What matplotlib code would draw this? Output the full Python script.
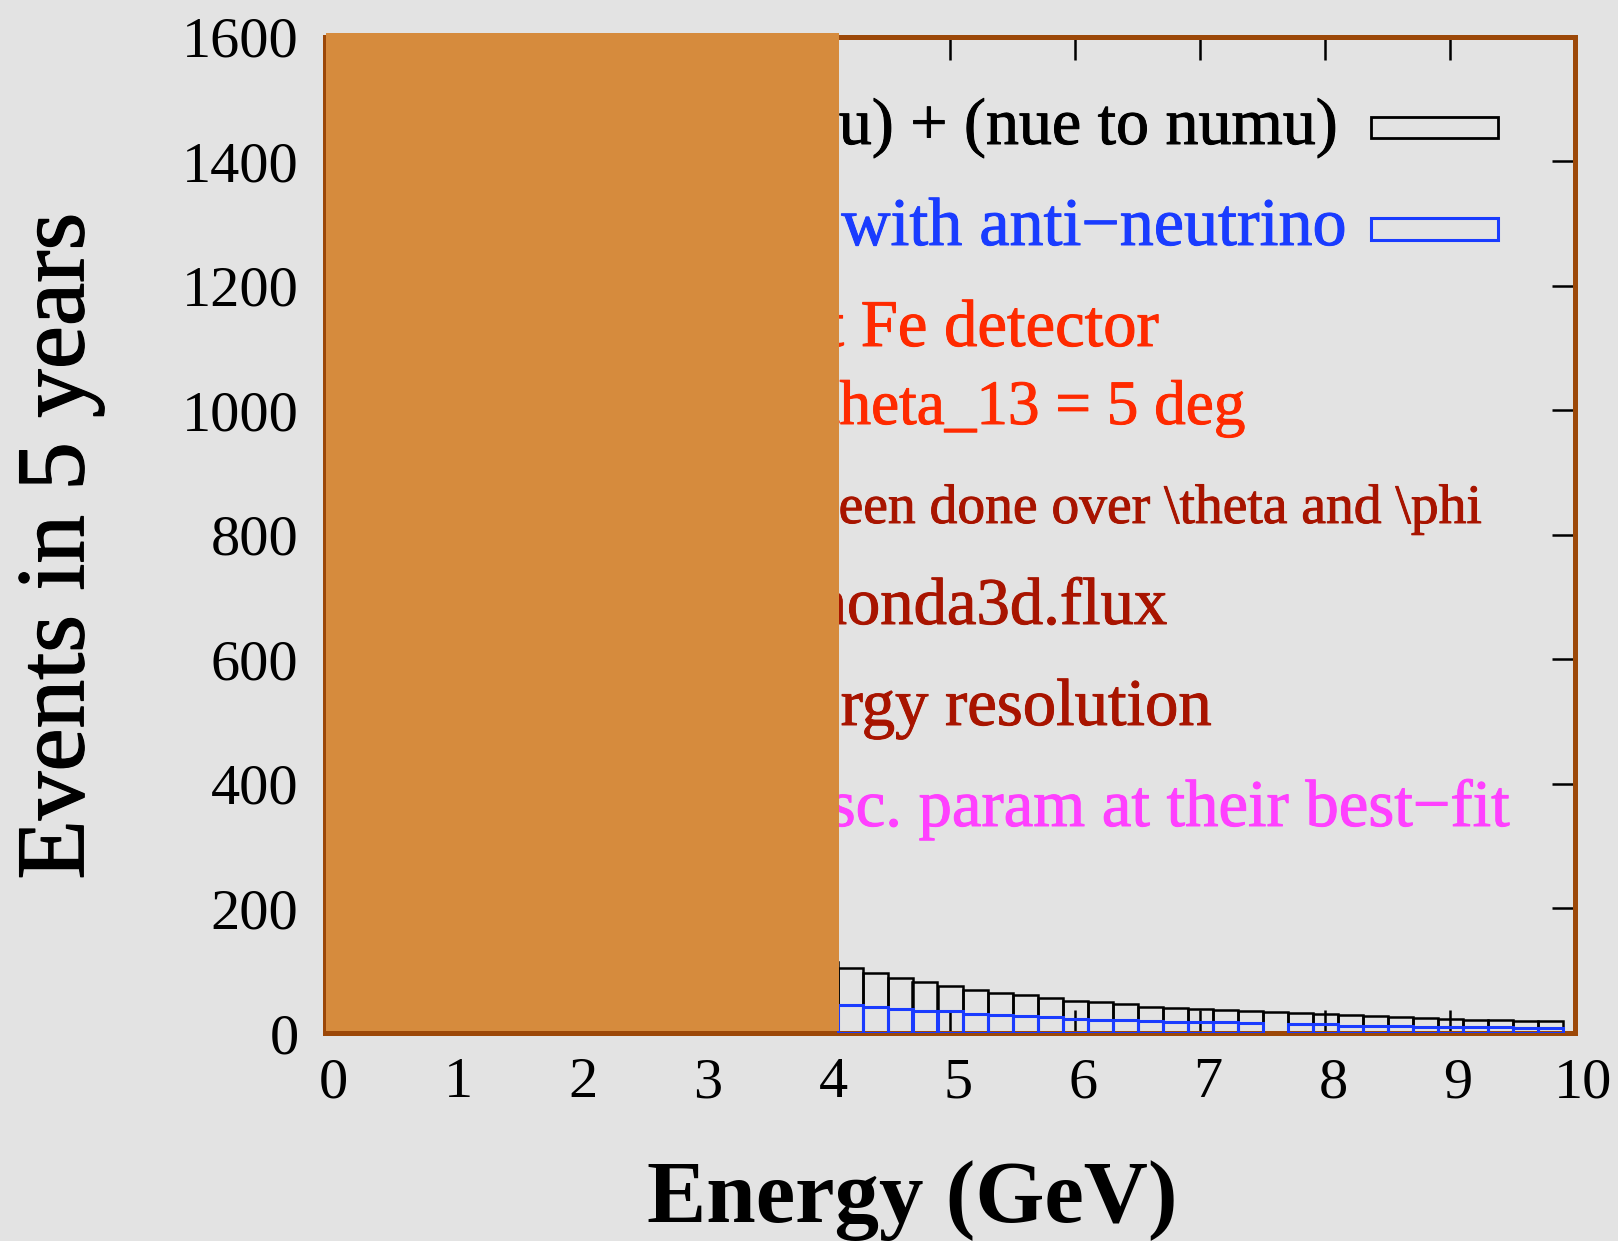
import matplotlib
matplotlib.use('Agg')
import matplotlib.pyplot as plt
import matplotlib.transforms as mtransforms
import matplotlib.patheffects as pe
from matplotlib.patches import Rectangle

plt.rcParams['font.family'] = ['Liberation Serif', 'DejaVu Serif']

# histogram bin centres (GeV), 0.2 GeV wide bins
energy = [4.0, 4.2, 4.4, 4.6, 4.8, 5.0, 5.2, 5.4, 5.6, 5.8,
          6.0, 6.2, 6.4, 6.6, 6.8, 7.0, 7.2, 7.4, 7.6, 7.8,
          8.0, 8.2, 8.4, 8.6, 8.8, 9.0, 9.2, 9.4, 9.6, 9.8]
events_nu = [114, 105, 96, 88, 82, 75, 69, 65, 61, 56,
             52, 50, 46, 42, 40, 39, 37, 35, 33, 32,
             30, 29, 27, 25, 24, 22, 21, 21, 20, 19]

energy_anti = [4.2, 4.4, 4.6, 4.8, 5.0, 5.2, 5.4, 5.6, 5.8,
               6.0, 6.2, 6.4, 6.6, 6.8, 7.0, 7.2, 7.4, 7.8,
               8.0, 8.2, 8.4, 8.6, 8.8, 9.0, 9.2, 9.4, 9.6, 9.8]
events_anti = [45, 41, 38, 36, 35, 31, 29, 27, 25,
               23, 21, 21, 20, 18, 18, 17, 16, 14,
               14, 12, 12, 11, 10, 10, 9, 9, 8, 8]

bin_width = 0.2
x_ticks = list(range(0, 11))
y_ticks = list(range(0, 1601, 200))

W, H = 1618, 1241
brown = '#9c4808'
bg = '#e3e3e3'


def fx(x):
    return x / W


def fy(y):
    return 1 - y / H


def heavy(col, lw=0.7):
    # the original's text looks a bit heavier than plain Liberation Serif
    return [pe.withStroke(linewidth=lw, foreground=col)]


fig = plt.figure(figsize=(W / 100, H / 100), dpi=100)
fig.patch.set_facecolor(bg)
ax = fig.add_axes([fx(325), fy(1033), fx(1575) - fx(325), fy(36.5) - fy(1033)])
ax.set_facecolor(bg)

ax.bar(energy, events_nu, width=bin_width, fill=False, edgecolor='black',
       linewidth=1.8, zorder=2)
ax.bar(energy_anti, events_anti, width=bin_width, fill=False,
       edgecolor='#1a3cff', linewidth=2.2, zorder=3)

ax.set_xlim(0, 10)
ax.set_ylim(0, 1600)
ax.set_xticks(x_ticks)
ax.set_yticks(y_ticks)
ax.tick_params(direction='in', length=16.5, width=1.8, top=True, right=True,
               labelsize=42, color='black')
ax.tick_params(axis='y', pad=19)
ax.tick_params(axis='x', pad=17.5)
# x tick labels sit a little right of their ticks in the original
shift = mtransforms.ScaledTranslation(0.08, 0, fig.dpi_scale_trans)
for lab in ax.xaxis.get_majorticklabels():
    lab.set_transform(lab.get_transform() + shift)
for s in ax.spines.values():
    s.set_color(brown)
    s.set_linewidth(3.6)

# axis labels
fig.text(fx(912), fy(1222), 'Energy (GeV)', ha='center', va='baseline',
         fontsize=64, fontweight='bold')
fig.text(fx(60), fy(546), 'Events in 5 years', ha='center', va='center',
         rotation=90, fontsize=70, path_effects=heavy('black', 0.9))

# key / annotation lines (partly hidden by the orange box)
lines = [
    ('(numu to numu) + (nue to numu)', 1338, 144, 'black', 47.5),
    ('Same with anti\u2212neutrino', 1345, 245, '#1a3cff', 49),
    ('50 kt Fe detector', 1158, 346, '#ff2a00', 48),
    ('\\theta_13 = 5 deg', 1246, 424, '#ff2a00', 45.5),
    ('Integration has been done over \\theta and \\phi', 1480, 523, '#a81400', 40),
    ('Flux: honda3d.flux', 1167, 624, '#a81400', 48),
    ('With energy resolution', 1211, 725, '#a81400', 48),
    ('All other osc. param at their best\u2212fit', 1509, 826, '#ff40ff', 48),
]
for txt, xr, yb, col, fs in lines:
    fig.text(fx(xr), fy(yb), txt, ha='right', va='baseline', color=col,
             fontsize=fs, path_effects=heavy(col))

fig.add_artist(Rectangle((fx(1371), fy(138)), fx(1498) - fx(1371), fy(117) - fy(138),
                         transform=fig.transFigure, fill=False,
                         edgecolor='black', linewidth=2))
fig.add_artist(Rectangle((fx(1371), fy(240)), fx(1498) - fx(1371), fy(218) - fy(240),
                         transform=fig.transFigure, fill=False,
                         edgecolor='#1a3cff', linewidth=2.2))

# orange box pasted over the left part of the plot
fig.add_artist(Rectangle((fx(326), fy(1031)), fx(839) - fx(326), fy(33) - fy(1031),
                         transform=fig.transFigure, facecolor='#d68b3d',
                         edgecolor='none', zorder=10))

fig.savefig('out.png', dpi=100, facecolor=bg)
